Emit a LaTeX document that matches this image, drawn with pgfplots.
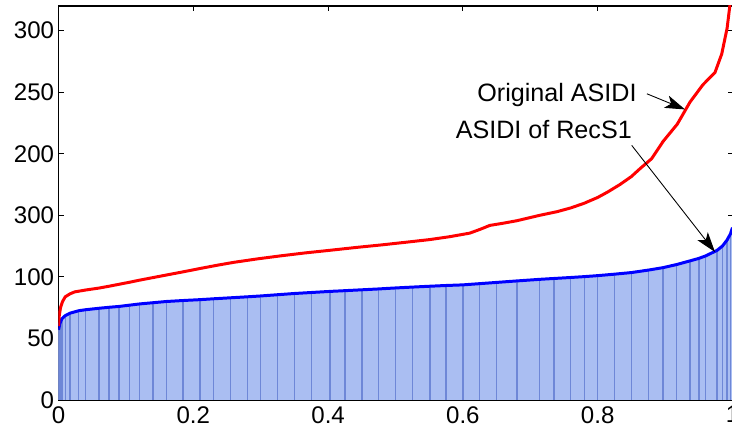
\documentclass[border=0pt]{standalone}
\usepackage{fontspec}
\setmainfont{Liberation Sans}
\usepackage{pgfplots}
\pgfplotsset{compat=1.18}
\usetikzlibrary{arrows.meta}

\definecolor{barfill}{RGB}{170,190,242}
\definecolor{barline}{RGB}{110,135,215}

% sorted values, blue = ASIDI of RecS1
\pgfplotstableread{
x y
0 57
0.002 62
0.005 66
0.01 68.5
0.017 70.5
0.03 72.5
0.04 73.3
0.06 74.5
0.075 75.3
0.09 76
0.105 77
0.12 78
0.14 79
0.16 80
0.185 80.8
0.21 81.5
0.23 82.2
0.255 83
0.28 83.8
0.3 84.5
0.325 85.5
0.35 86.5
0.375 87.3
0.403 88.2
0.425 88.8
0.45 89.5
0.475 90.2
0.5 91
0.525 91.7
0.551 92.4
0.575 93
0.6 93.5
0.625 94.5
0.65 95.5
0.68 96.7
0.714 98
0.735 98.7
0.76 99.5
0.78 100.2
0.8 101
0.825 102.2
0.85 103.5
0.875 105.5
0.897 107.5
0.917 110
0.937 113
0.95 115
0.96 117
0.977 121.5
0.985 125
0.992 130
0.997 135
1.0 140
}\recs

% red = original ASIDI
\pgfplotstableread{
x y
0 60
0.001 68
0.003 75
0.006 80
0.01 83.8
0.017 86.2
0.024 87.8
0.04 89.3
0.06 90.9
0.075 92.4
0.09 94
0.105 95.6
0.12 97.3
0.14 99.4
0.16 101.5
0.185 104.1
0.21 106.8
0.235 109.4
0.26 111.8
0.295 114.6
0.33 117.1
0.365 119.4
0.403 121.6
0.44 123.8
0.48 126
0.515 128.1
0.551 130.3
0.58 132.6
0.61 135.5
0.625 138.5
0.64 141.8
0.66 143.6
0.68 145.6
0.714 150
0.74 153
0.76 156
0.78 159.8
0.8 164.5
0.815 169
0.833 175
0.85 181.5
0.863 188
0.88 196
0.897 210
0.918 224
0.937 242
0.956 256
0.974 266
0.984 281
0.992 302
0.996 320
0.999 335
}\orig

\begin{document}
\begin{tikzpicture}
\begin{axis}[
    at={(1.17cm,0.64cm)}, anchor=south west,
    scale only axis, width=13.48cm, height=7.88cm,
    xmin=0, xmax=1, ymin=0, ymax=320,
    xtick={0,0.2,0.4,0.6,0.8,1},
    xticklabels={0,0.2,0.4,0.6,0.8,1},
    ytick={0,50,100,150,200,250,300},
    yticklabels={0,50,100,300,200,250,300},
    tick align=inside, major tick length=0.1cm,
    tick style={black, line width=0.5pt},
    axis line style={black, line width=0.6pt},
    ticklabel style={font=\fontsize{13.7}{16}\selectfont},
    /pgf/number format/assume math mode=true,
    yticklabel style={xshift=1pt},
]
\addplot[fill=barfill, draw=none] table {\recs} \closedcycle;
\addplot[ycomb, barline, line width=0.8pt, mark=none] table {\recs};
\addplot[blue, line width=1.7pt, mark=none] table {\recs};
\addplot[red, line width=1.7pt, mark=none] table {\orig};

\node[font=\fontsize{14.3}{17}\selectfont] at (axis cs:0.7396,248) {Original ASIDI};
\node[font=\fontsize{14.3}{17}\selectfont] at (axis cs:0.720,219.7) {ASIDI of RecS1};
\draw[line width=0.5pt, -{Stealth[length=0.4cm, width=0.26cm, inset=0.1cm]}]
    (axis cs:0.873,248.7) -- (axis cs:0.9295,236);
\draw[line width=0.5pt, -{Stealth[length=0.4cm, width=0.26cm, inset=0.1cm]}]
    (axis cs:0.8505,206.8) -- (axis cs:0.974,120.2);
\end{axis}
\pgfresetboundingbox
\path (0,0) rectangle (14.64cm,8.64cm);
\end{tikzpicture}
\end{document}
